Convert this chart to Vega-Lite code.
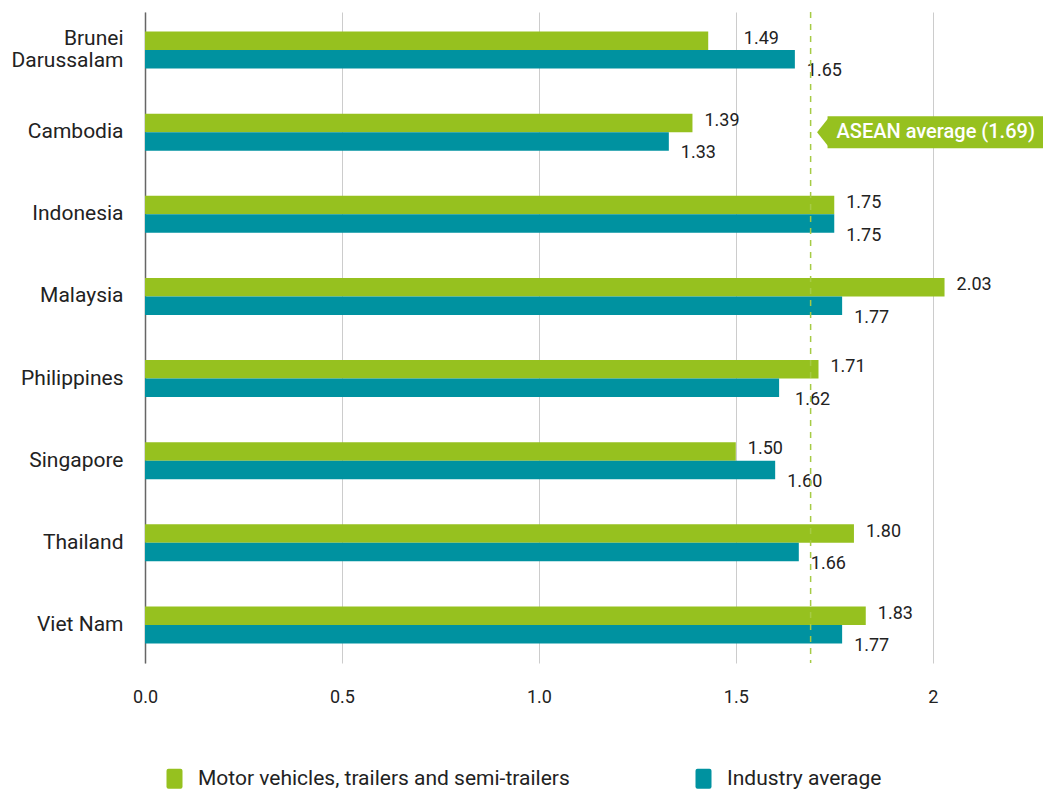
{
  "$schema": "https://vega.github.io/schema/vega-lite/v6.json",
  "width": 898,
  "height": 651,
  "autosize": "none",
  "padding": {"left": 145, "top": 12, "right": 0, "bottom": 128},
  "config": {"view": {"stroke": null}, "font": "Roboto", "text": {"font": "Roboto"}},
  "datasets": {
    "bars": [
      {"country": "Brunei Darussalam", "series": "Motor vehicles, trailers and semi-trailers", "bar": 1.43, "value": 1.49},
      {"country": "Brunei Darussalam", "series": "Industry average", "bar": 1.65, "value": 1.65},
      {"country": "Cambodia", "series": "Motor vehicles, trailers and semi-trailers", "bar": 1.39, "value": 1.39},
      {"country": "Cambodia", "series": "Industry average", "bar": 1.33, "value": 1.33},
      {"country": "Indonesia", "series": "Motor vehicles, trailers and semi-trailers", "bar": 1.75, "value": 1.75},
      {"country": "Indonesia", "series": "Industry average", "bar": 1.75, "value": 1.75},
      {"country": "Malaysia", "series": "Motor vehicles, trailers and semi-trailers", "bar": 2.03, "value": 2.03},
      {"country": "Malaysia", "series": "Industry average", "bar": 1.77, "value": 1.77},
      {"country": "Philippines", "series": "Motor vehicles, trailers and semi-trailers", "bar": 1.71, "value": 1.71},
      {"country": "Philippines", "series": "Industry average", "bar": 1.61, "value": 1.62},
      {"country": "Singapore", "series": "Motor vehicles, trailers and semi-trailers", "bar": 1.5, "value": 1.5},
      {"country": "Singapore", "series": "Industry average", "bar": 1.6, "value": 1.6},
      {"country": "Thailand", "series": "Motor vehicles, trailers and semi-trailers", "bar": 1.8, "value": 1.8},
      {"country": "Thailand", "series": "Industry average", "bar": 1.66, "value": 1.66},
      {"country": "Viet Nam", "series": "Motor vehicles, trailers and semi-trailers", "bar": 1.83, "value": 1.83},
      {"country": "Viet Nam", "series": "Industry average", "bar": 1.77, "value": 1.77}
    ],
    "avg": [
      {"value": 1.69, "country": "Cambodia", "boxStart": 1.733, "boxEnd": 2.28, "label": "ASEAN average (1.69)"}
    ]
  },
  "encoding": {
    "y": {
      "field": "country",
      "type": "nominal",
      "sort": ["Brunei Darussalam", "Cambodia", "Indonesia", "Malaysia", "Philippines", "Singapore", "Thailand", "Viet Nam"],
      "scale": {"paddingInner": 0.55, "paddingOuter": 0.238},
      "axis": {
        "title": null,
        "ticks": false,
        "domain": true,
        "domainColor": "#666666",
        "domainWidth": 1.5,
        "labelFontSize": 21,
        "labelColor": "#222222",
        "labelPadding": 22,
        "labelLineHeight": 22,
        "labelOffset": {"condition": {"test": "datum.value == 'Brunei Darussalam'", "value": -11}, "value": 0},
        "labelExpr": "datum.value == 'Brunei Darussalam' ? ['Brunei', 'Darussalam'] : datum.value"
      }
    }
  },
  "layer": [
    {
      "data": {"name": "bars"},
      "mark": {"type": "bar"},
      "encoding": {
        "x": {
          "field": "bar",
          "type": "quantitative",
          "scale": {"domain": [0, 2.28], "nice": false},
          "axis": {
            "title": null,
            "values": [0, 0.5, 1, 1.5, 2],
            "labelExpr": "datum.value == 2 ? '2' : format(datum.value, '.1f')",
            "labelFlush": false,
            "grid": true,
            "gridColor": "#cccccc",
            "gridWidth": 1,
            "domain": false,
            "ticks": false,
            "labelFontSize": 18,
            "labelColor": "#222222",
            "labelPadding": 25
          }
        },
        "yOffset": {
          "field": "series",
          "type": "nominal",
          "sort": ["Motor vehicles, trailers and semi-trailers", "Industry average"]
        },
        "color": {
          "field": "series",
          "type": "nominal",
          "scale": {
            "domain": ["Motor vehicles, trailers and semi-trailers", "Industry average"],
            "range": ["#96C11F", "#0092A0"]
          },
          "legend": {
            "title": null,
            "orient": "none",
            "direction": "horizontal",
            "legendX": 19,
            "legendY": 756,
            "labelFontSize": 21,
            "labelColor": "#222222",
            "labelLimit": 600,
            "labelOffset": 13,
            "columnPadding": 123,
            "symbolSize": 400,
            "symbolStrokeWidth": 0,
            "symbolType": "M-0.6,-1H0.6Q0.8,-1 0.8,-0.8V0.8Q0.8,1 0.6,1H-0.6Q-0.8,1 -0.8,0.8V-0.8Q-0.8,-1 -0.6,-1Z"
          }
        }
      }
    },
    {
      "data": {"name": "bars"},
      "transform": [{"filter": "datum.series == 'Motor vehicles, trailers and semi-trailers'"}],
      "mark": {"type": "text", "align": "left", "baseline": "middle", "dx": 12, "dy": -2, "fontSize": 18, "color": "#222222"},
      "encoding": {
        "x": {"field": "value", "type": "quantitative"},
        "yOffset": {"field": "series", "type": "nominal", "sort": ["Motor vehicles, trailers and semi-trailers", "Industry average"]},
        "text": {"field": "value", "type": "quantitative", "format": ".2f"}
      }
    },
    {
      "data": {"name": "bars"},
      "transform": [{"filter": "datum.series == 'Industry average'"}],
      "mark": {"type": "text", "align": "left", "baseline": "middle", "dx": 12, "dy": 12, "fontSize": 18, "color": "#222222"},
      "encoding": {
        "x": {"field": "value", "type": "quantitative"},
        "yOffset": {"field": "series", "type": "nominal", "sort": ["Motor vehicles, trailers and semi-trailers", "Industry average"]},
        "text": {"field": "value", "type": "quantitative", "format": ".2f"}
      }
    },
    {
      "data": {"name": "avg"},
      "mark": {"type": "rule", "color": "#A6CB45", "strokeWidth": 1.5, "strokeDash": [6, 6]},
      "encoding": {
        "x": {"field": "value", "type": "quantitative"},
        "y": null
      }
    },
    {
      "data": {"name": "avg"},
      "mark": {"type": "bar", "color": "#96C11F", "height": 32},
      "encoding": {
        "x": {"field": "boxStart", "type": "quantitative"},
        "x2": {"field": "boxEnd"}
      }
    },
    {
      "data": {"name": "avg"},
      "mark": {"type": "point", "filled": true, "opacity": 1, "color": "#96C11F", "size": 784, "strokeWidth": 0, "shape": "M0.05,-1L-0.75,0L0.05,1Z"},
      "encoding": {
        "x": {"field": "boxStart", "type": "quantitative"}
      }
    },
    {
      "data": {"name": "avg"},
      "mark": {"type": "text", "align": "left", "baseline": "middle", "dx": 9, "fontSize": 20, "fontWeight": 500, "color": "#ffffff"},
      "encoding": {
        "x": {"field": "boxStart", "type": "quantitative"},
        "text": {"field": "label"}
      }
    }
  ]
}
